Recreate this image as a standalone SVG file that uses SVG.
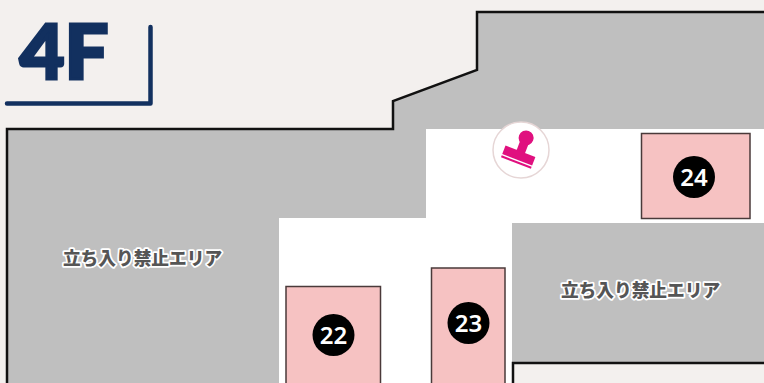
<svg xmlns="http://www.w3.org/2000/svg" width="764" height="383" viewBox="0 0 764 383">
<style>
.booth{fill:#f6c2c2;stroke:#4a3a3a;stroke-width:1.5}
.badge{fill:#000}
.num{font-family:"Noto Sans","Open Sans",sans-serif;font-weight:600;font-size:24px;fill:#fff;text-anchor:middle}
.zone{font-family:"Noto Sans CJK JP",sans-serif;font-weight:900;font-size:17.7px;fill:#555;stroke:#fff;stroke-width:3.500px;paint-order:stroke;stroke-linejoin:round;text-anchor:middle}
.wall{fill:none;stroke:#111;stroke-width:2.500;stroke-linejoin:miter}
.pink{fill:#e0107f}
</style>
<rect width="764" height="383" fill="#f3f0ee"/>
<g id="floor">
<path d="M7 129H393V101L477 70V12H764V383H7Z" fill="#bfbfbf"/>
<path class="wall" d="M7 383V129H393V101L477 70V12H764"/>
<path d="M426 129H764V223H512V383H279V218H426Z" fill="#fff"/>
<path d="M513 383V363H764V383Z" fill="#f3f0ee"/>
<path class="wall" d="M513 383V363H764"/>
</g>
<g id="title">
<text x="19.500" y="79" font-family="Lato,'Liberation Sans',sans-serif" font-weight="900" font-size="77" fill="#12305f" stroke="#12305f" stroke-width="3" textLength="89" lengthAdjust="spacingAndGlyphs">4F</text>
<path d="M150.500 27V103.500H7" fill="none" stroke="#12305f" stroke-width="4.500" stroke-linecap="round" stroke-linejoin="round"/>
</g>
<g id="stamp">
<circle cx="521" cy="150" r="28" fill="#fff" stroke="#e6d6d6" stroke-width="1.500"/>
<g transform="rotate(21 519 155)">
<circle cx="519.500" cy="136.500" r="7.500" class="pink"/>
<rect x="515" y="140" width="9" height="14" class="pink"/>
<path d="M503 151H535V160H503Z" class="pink"/>
<rect x="503" y="161.500" width="32" height="2" class="pink"/>
</g>
</g>
<g id="zone-left"><text class="zone" x="142.500" y="265">立ち入り禁止エリア</text></g>
<g id="zone-right"><text class="zone" x="640.500" y="297">立ち入り禁止エリア</text></g>
<g id="booth-22">
<rect class="booth" x="286" y="286.500" width="94.500" height="100"/>
<circle class="badge" cx="333.500" cy="335" r="21"/>
<text class="num" x="333.500" y="344">22</text>
</g>
<g id="booth-23">
<rect class="booth" x="431.500" y="268" width="73.500" height="120"/>
<circle class="badge" cx="468.500" cy="323" r="21"/>
<text class="num" x="468.500" y="332">23</text>
</g>
<g id="booth-24">
<rect class="booth" x="641.500" y="133.500" width="108.500" height="85"/>
<circle class="badge" cx="694" cy="177" r="21"/>
<text class="num" x="694" y="186">24</text>
</g>
</svg>
